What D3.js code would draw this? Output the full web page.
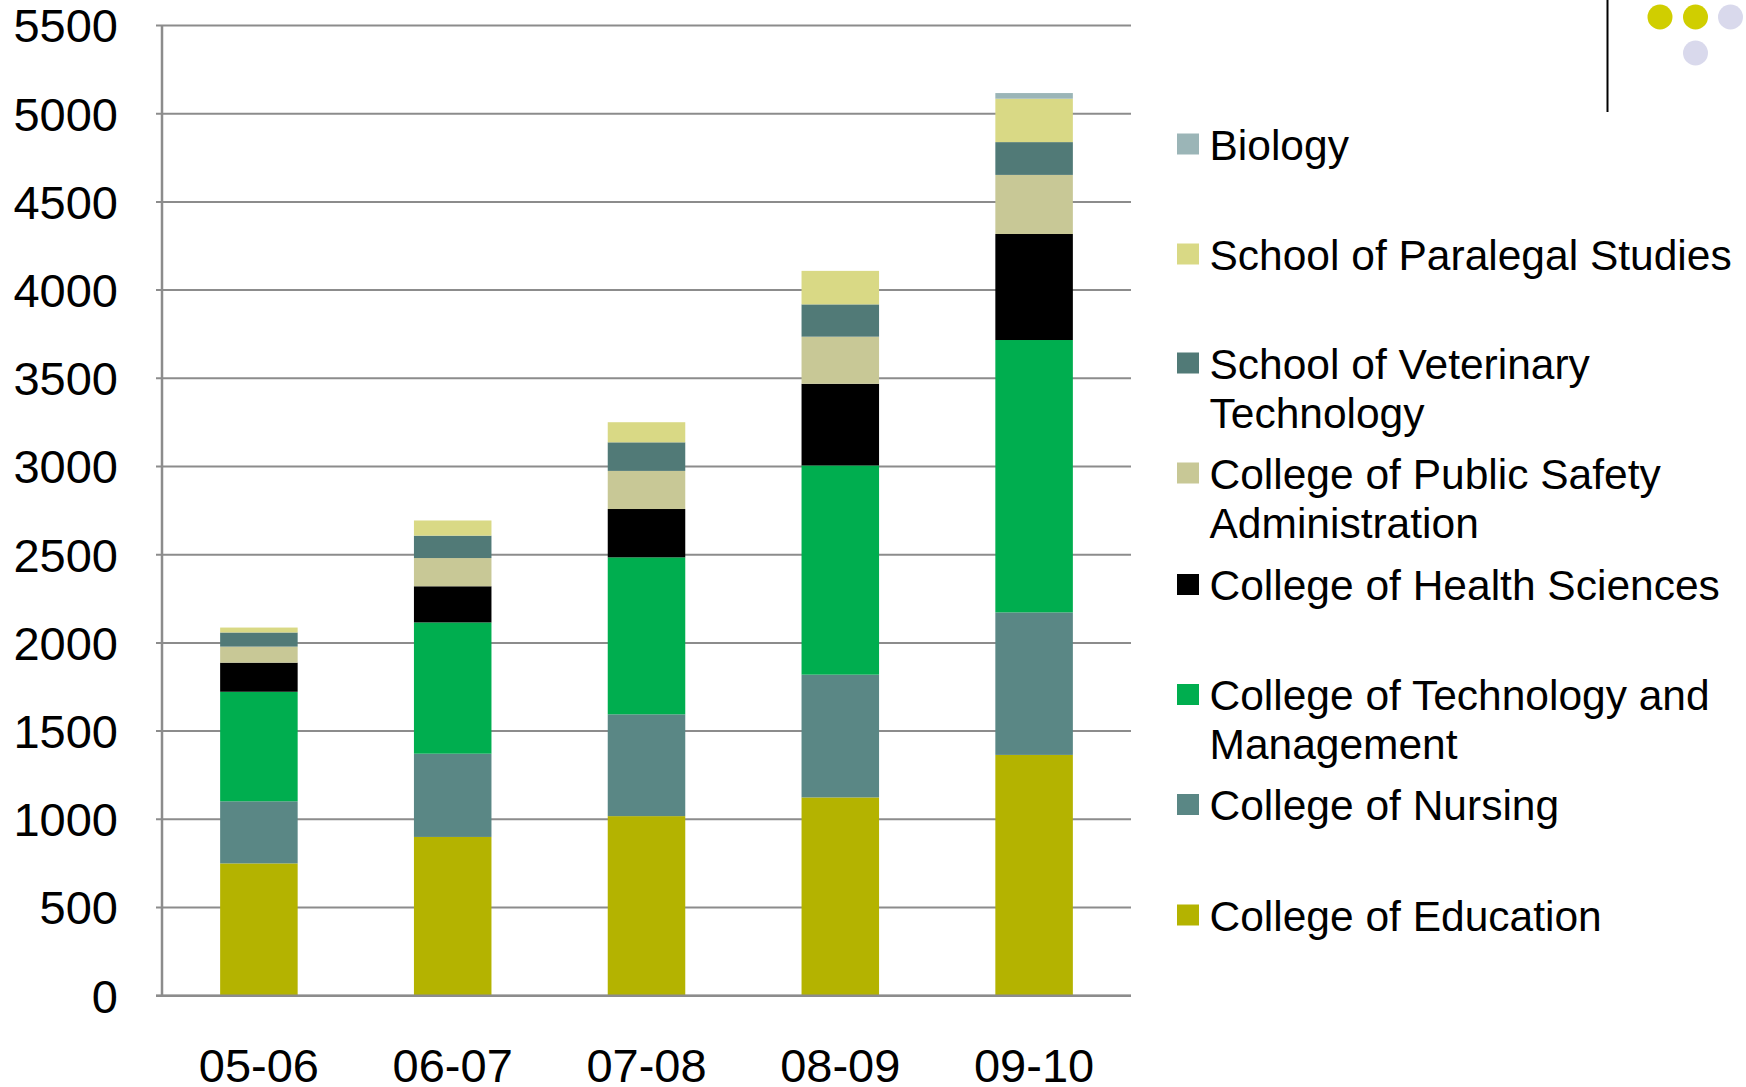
<!DOCTYPE html>
<html>
<head>
<meta charset="utf-8">
<script src="https://cdn.jsdelivr.net/npm/d3@7"></script>
<style>
  html, body { margin: 0; padding: 0; background: #ffffff; }
  svg { display: block; }
  text { font-family: "Liberation Sans", Arial, sans-serif; fill: #000; }
</style>
</head>
<body>
<svg id="chart" width="1746" height="1087"></svg>
<script>
// Academic years on the x axis
const years = ["05-06", "06-07", "07-08", "08-09", "09-10"];

// Enrollment per college, one array per stacked series (bottom to top)
const education     = [750, 900, 1018, 1124, 1365];
const nursing       = [352, 472, 577, 696, 808];
const technology    = [621, 744, 890, 1186, 1544];
const healthSci     = [165, 205, 274, 463, 601];
const publicSafety  = [91, 160, 216, 267, 335];
const veterinary    = [80, 127, 162, 183, 186];
const paralegal     = [28, 86, 114, 190, 246];
const biology       = [0, 0, 0, 0, 32];

const yTicks = [0, 500, 1000, 1500, 2000, 2500, 3000, 3500, 4000, 4500, 5000, 5500];

const seriesList = [
  { key: "College of Education", values: education, color: "#b4b300" },
  { key: "College of Nursing", values: nursing, color: "#5a8785" },
  { key: "College of Technology and Management", values: technology, color: "#00ae4f" },
  { key: "College of Health Sciences", values: healthSci, color: "#000000" },
  { key: "College of Public Safety Administration", values: publicSafety, color: "#c8c896" },
  { key: "School of Veterinary Technology", values: veterinary, color: "#517a77" },
  { key: "School of Paralegal Studies", values: paralegal, color: "#d9d985" },
  { key: "Biology", values: biology, color: "#9bb5b7" }
];

// Legend entries, top to bottom, with their wrapped lines
const legendEntries = [
  { key: "Biology", lines: ["Biology"], baseline: 159.5 },
  { key: "School of Paralegal Studies", lines: ["School of Paralegal Studies"], baseline: 269.5 },
  { key: "School of Veterinary Technology", lines: ["School of Veterinary", "Technology"], baseline: 378.5 },
  { key: "College of Public Safety Administration", lines: ["College of Public Safety", "Administration"], baseline: 488.5 },
  { key: "College of Health Sciences", lines: ["College of Health Sciences"], baseline: 600 },
  { key: "College of Technology and Management", lines: ["College of Technology and", "Management"], baseline: 710 },
  { key: "College of Nursing", lines: ["College of Nursing"], baseline: 820 },
  { key: "College of Education", lines: ["College of Education"], baseline: 930.5 }
];

const svg = d3.select("#chart");

const plot = { left: 162, right: 1131, top: 25.5, bottom: 995.7 };

const x = d3.scaleBand()
  .domain(years)
  .range([plot.left, plot.right])
  .paddingInner(0.6)
  .paddingOuter(0.3);

const y = d3.scaleLinear()
  .domain([0, 5500])
  .range([plot.bottom, plot.top]);

// Build the stack from the series arrays
const rows = years.map((yr, i) => {
  const r = { year: yr };
  seriesList.forEach(s => { r[s.key] = s.values[i]; });
  return r;
});
const stack = d3.stack().keys(seriesList.map(s => s.key));
const stacked = stack(rows);
const colorOf = new Map(seriesList.map(s => [s.key, s.color]));

// Horizontal gridlines
svg.append("g")
  .selectAll("line")
  .data(yTicks)
  .join("line")
  .attr("x1", plot.left - 6)
  .attr("x2", plot.right)
  .attr("y1", d => y(d))
  .attr("y2", d => y(d))
  .attr("stroke", "#8c8c8c")
  .attr("stroke-width", 2);

// Stacked bars
svg.append("g")
  .selectAll("g")
  .data(stacked)
  .join("g")
  .attr("fill", d => colorOf.get(d.key))
  .selectAll("rect")
  .data(d => d)
  .join("rect")
  .attr("x", d => x(d.data.year))
  .attr("width", x.bandwidth())
  .attr("y", d => y(d[1]))
  .attr("height", d => Math.max(0, y(d[0]) - y(d[1])));

// Left axis line and baseline
svg.append("line")
  .attr("x1", plot.left).attr("x2", plot.left)
  .attr("y1", plot.top).attr("y2", plot.bottom)
  .attr("stroke", "#8c8c8c").attr("stroke-width", 2.5);
svg.append("line")
  .attr("x1", plot.left - 6).attr("x2", plot.right)
  .attr("y1", plot.bottom).attr("y2", plot.bottom)
  .attr("stroke", "#8c8c8c").attr("stroke-width", 2.5);

// Y axis labels
svg.append("g")
  .selectAll("text")
  .data(yTicks)
  .join("text")
  .attr("x", 118)
  .attr("y", d => y(d))
  .attr("dy", "0.36em")
  .attr("text-anchor", "end")
  .attr("font-size", 47)
  .text(d => d);

// X axis labels
svg.append("g")
  .selectAll("text")
  .data(years)
  .join("text")
  .attr("x", d => x(d) + x.bandwidth() / 2)
  .attr("y", 1081.5)
  .attr("text-anchor", "middle")
  .attr("font-size", 47)
  .text(d => d);

// Legend
const legend = svg.append("g");
legendEntries.forEach(e => {
  legend.append("rect")
    .attr("x", 1177)
    .attr("y", e.baseline - 26)
    .attr("width", 22)
    .attr("height", 21)
    .attr("fill", colorOf.get(e.key));
  e.lines.forEach((ln, j) => {
    legend.append("text")
      .attr("x", 1209.5)
      .attr("y", e.baseline + j * 49.2)
      .attr("font-size", 42.5)
      .text(ln);
  });
});

// Corner ornament: rule and dots
svg.append("line")
  .attr("x1", 1607.5).attr("x2", 1607.5)
  .attr("y1", 0).attr("y2", 112)
  .attr("stroke", "#000").attr("stroke-width", 2);
const dots = [
  { cx: 1660, cy: 17, fill: "#d0ce00" },
  { cx: 1695.5, cy: 17, fill: "#d0ce00" },
  { cx: 1730.5, cy: 17, fill: "#d9d9ec" },
  { cx: 1695.5, cy: 53, fill: "#d9d9ec" }
];
svg.append("g")
  .selectAll("circle")
  .data(dots)
  .join("circle")
  .attr("cx", d => d.cx)
  .attr("cy", d => d.cy)
  .attr("r", 12.5)
  .attr("fill", d => d.fill);
</script>
</body>
</html>
